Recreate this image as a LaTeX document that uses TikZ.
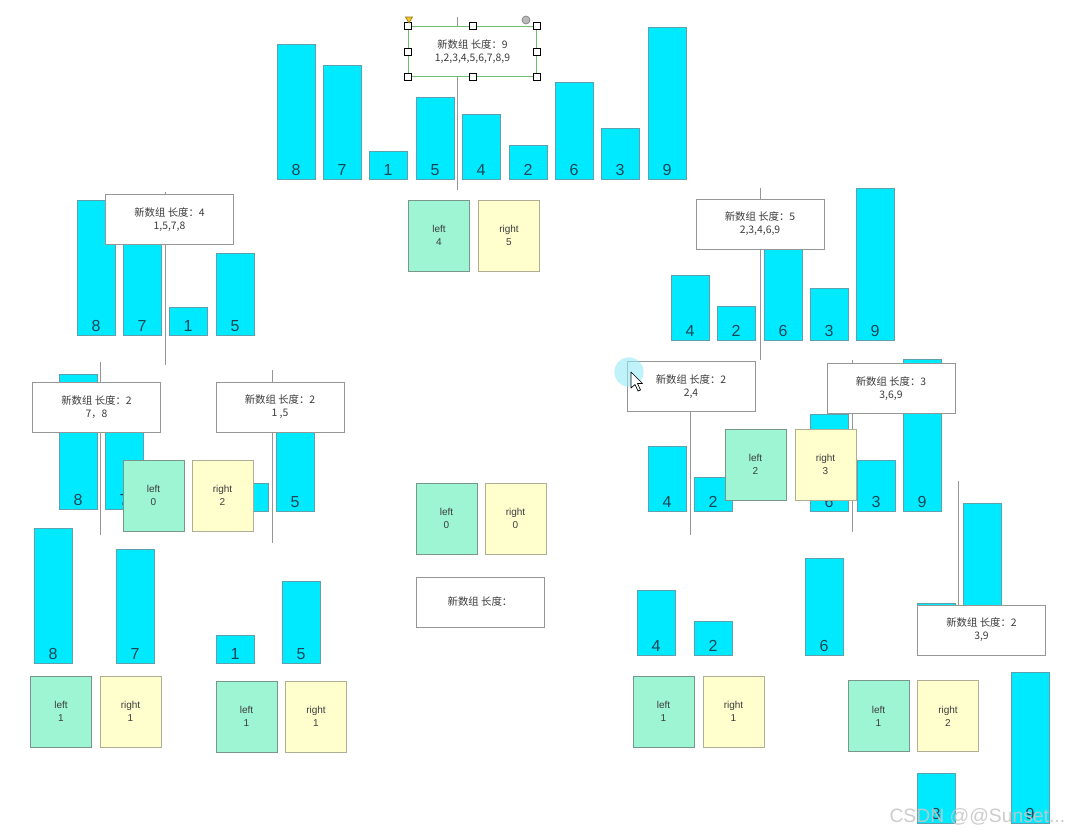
\documentclass[tikz,border=0pt]{standalone}
\usepackage{fontspec}
\setmainfont{Liberation Sans}
\newfontfamily\cjk{Noto Sans CJK SC}

\definecolor{barcyan}{RGB}{0,234,255}
\definecolor{barline}{RGB}{95,160,175}
\definecolor{numcol}{RGB}{25,70,85}
\definecolor{leftfill}{RGB}{157,245,212}
\definecolor{leftline}{RGB}{120,150,140}
\definecolor{rightfill}{RGB}{255,255,206}
\definecolor{rightline}{RGB}{175,175,150}
\definecolor{boxgray}{RGB}{150,150,150}
\definecolor{linegray}{RGB}{150,150,150}
\definecolor{txtgray}{RGB}{60,60,60}
\definecolor{selgreen}{RGB}{110,190,110}
\definecolor{pointer}{RGB}{150,235,245}

\tikzset{every picture/.style={line width=0.75pt}}
\tikzset{
  bar/.style={draw=barline, fill=barcyan},
  barnum/.style={anchor=base, inner sep=0pt, text=numcol, font=\fontsize{12}{14}\selectfont},
  arrbox/.style={draw=boxgray, fill=white, minimum width=96pt, minimum height=37.5pt, inner sep=0pt, align=center, text=txtgray, font=\cjk\fontsize{7.8}{9.75}\selectfont},
  leftbox/.style={draw=leftline, fill=leftfill, minimum width=45.75pt, minimum height=53.25pt, inner sep=0pt, align=center, text=txtgray, font=\fontsize{7.5}{9.75}\selectfont},
  rightbox/.style={leftbox, draw=rightline, fill=rightfill},
  splitline/.style={draw=linegray},
  handle/.style={draw=black, fill=white, minimum size=5.25pt, inner sep=0pt, line width=0.6pt}
}

\begin{document}
\begin{tikzpicture}[x=0.75pt,y=0.75pt,yscale=-1,xscale=1]
    \useasboundingbox (0,0) rectangle (1071,832);

    %Straight Lines: top split
    \draw[splitline] (457,17) -- (457,190);
    %Shape: bars 8 7 1 5 4 2 6 3 9
    \foreach \v/\xl/\yt [count=\i] in {8/277/44, 7/323/65, 1/369/151, 5/416/97, 4/462/114, 2/509/145, 6/555/82, 3/601/128, 9/648/27} {
      \draw[bar] (\xl,\yt) rectangle ({\xl+38},179);
      \node[barnum] (a\i) at ({\xl+19},175) {\v};
    }
    % Text Node
    \node[arrbox, draw=selgreen] (arr9) at (472.5,51.5) {新数组 长度：9\\1,2,3,4,5,6,7,8,9};
    %Shape: selection handles
    \foreach \a/\n in {north west/1, north/2, north east/3, east/4, south east/5, south/6, south west/7, west/8} {
      \node[handle] (hd\n) at (arr9.\a) {};
    }
    \draw[draw={rgb, 255:red, 150; green, 120; blue, 20}, fill={rgb, 255:red, 240; green, 200; blue, 40}, line width=0.5pt] (405.5,17) -- (412.5,17) -- (409,23) -- cycle;
    \draw[draw=gray, fill=gray!55, line width=0.5pt] (526,20) circle (3pt);
    % Text Node
    \node[leftbox] (l4) at (439,235.5) {left\\4};
    \node[rightbox] (r5) at (509,235.5) {right\\5};

    %Straight Lines: left half
    \draw[splitline] (165,192) -- (165,365);
    \foreach \v/\xl/\yt [count=\i] in {8/77/200, 7/123/215, 1/169/307, 5/216/253} {
      \draw[bar] (\xl,\yt) rectangle ({\xl+38},335);
      \node[barnum] (b\i) at ({\xl+19},331) {\v};
    }
    \node[arrbox] (arr4) at (169.5,219.5) {新数组 长度：4\\1,5,7,8};

    %Straight Lines: right half
    \draw[splitline] (760,188) -- (760,360);
    \foreach \v/\xl/\yt [count=\i] in {4/671/275, 2/717/306, 6/764/225, 3/810/288, 9/856/188} {
      \draw[bar] (\xl,\yt) rectangle ({\xl+38},340);
      \node[barnum] (c\i) at ({\xl+19},336) {\v};
    }
    \node[arrbox] (arr5) at (760,224) {新数组 长度：5\\2,3,4,6,9};

    %Straight Lines: 7,8 and 1,5
    \draw[splitline] (100,362) -- (100,535);
    \foreach \v/\xl/\yt [count=\i] in {8/59/374, 7/105/395} {
      \draw[bar] (\xl,\yt) rectangle ({\xl+38},509);
      \node[barnum] (d\i) at ({\xl+19},505) {\v};
    }
    \draw[splitline] (272,370) -- (272,543);
    \draw[bar] (230,483) rectangle (268,511);
    \draw[bar] (276,400) rectangle (314,511);
    \node[barnum] (e2) at (295,507) {5};
    \node[arrbox] (arr78) at (96.5,407) {新数组 长度：2\\7，8};
    \node[arrbox] (arr15) at (280,407) {新数组 长度：2\\1 ,5};
    \node[leftbox] (l0a) at (153.5,495.5) {left\\0};
    \node[rightbox] (r2a) at (222.5,495.5) {right\\2};

    %Shape: empty array
    \node[leftbox] (l0b) at (446.5,518.5) {left\\0};
    \node[rightbox] (r0b) at (515.5,518.5) {right\\0};
    \node[arrbox] (arr0) at (480,602) {新数组 长度：};

    %Shape: single bars left
    \foreach \v/\xl/\yt [count=\i] in {8/34/528, 7/116/549, 1/216/635, 5/282/581} {
      \draw[bar] (\xl,\yt) rectangle ({\xl+38},663);
      \node[barnum] (f\i) at ({\xl+19},659) {\v};
    }
    \node[leftbox] (l1a) at (61,711.5) {left\\1};
    \node[rightbox] (r1a) at (130.5,711.5) {right\\1};
    \node[leftbox] (l1b) at (246.5,716.5) {left\\1};
    \node[rightbox] (r1b) at (316,716.5) {right\\1};

    %Straight Lines: 2,4 and 3,6,9
    \draw[splitline] (690,370) -- (690,535);
    \foreach \v/\xl/\yt [count=\i] in {4/648/446, 2/694/477} {
      \draw[bar] (\xl,\yt) rectangle ({\xl+38},511);
      \node[barnum] (g\i) at ({\xl+19},507) {\v};
    }
    \draw[splitline] (852,360) -- (852,532);
    \foreach \v/\xl/\yt [count=\i] in {6/810/414, 3/857/460, 9/903/359} {
      \draw[bar] (\xl,\yt) rectangle ({\xl+38},511);
      \node[barnum] (k\i) at ({\xl+19},507) {\v};
    }
    \node[arrbox] (arr24) at (691,386.5) {新数组 长度：2\\2,4};
    \node[arrbox] (arr369) at (891,388.5) {新数组 长度：3\\3,6,9};
    \node[leftbox] (l2) at (755.5,464.5) {left\\2};
    \node[rightbox] (r3) at (825.5,464.5) {right\\3};
    %Shape: mouse pointer
    \fill[pointer, opacity=0.6] (629,372) circle (11pt);
    \draw[fill=white, line width=0.5pt, line join=round] (631,372) -- (631,388) -- (635,384.5) -- (638,391) -- (640.5,390) -- (637.5,383.5) -- (642.5,383.5) -- cycle;

    %Shape: single bars right
    \foreach \v/\xl/\yt [count=\i] in {4/637/590, 2/694/621, 6/805/558} {
      \draw[bar] (\xl,\yt) rectangle ({\xl+38},655);
      \node[barnum] (m\i) at ({\xl+19},651) {\v};
    }
    \node[leftbox] (l1c) at (663.5,711.5) {left\\1};
    \node[rightbox] (r1c) at (733.5,711.5) {right\\1};

    %Straight Lines: 3,9
    \draw[splitline] (958,481) -- (958,605);
    \draw[bar] (917,603) rectangle (955,655);
    \draw[bar] (963,503) rectangle (1001,655);
    \node[arrbox] (arr39) at (981.5,630) {新数组 长度：2\\3,9};
    \node[leftbox] (l1d) at (878.5,716) {left\\1};
    \node[rightbox] (r2d) at (948,716) {right\\2};
    \foreach \v/\xl/\yt [count=\i] in {3/917/773, 9/1011/672} {
      \draw[bar] (\xl,\yt) rectangle ({\xl+38},823);
      \node[barnum] (q\i) at ({\xl+19},819) {\v};
    }

    % Text Node: watermark
    \node[anchor=base west, inner sep=0pt, text=gray!45, opacity=0.9, font=\fontsize{14.5}{16}\selectfont] (wm) at (889,822) {CSDN @@Sunset...};
\end{tikzpicture}
\end{document}
